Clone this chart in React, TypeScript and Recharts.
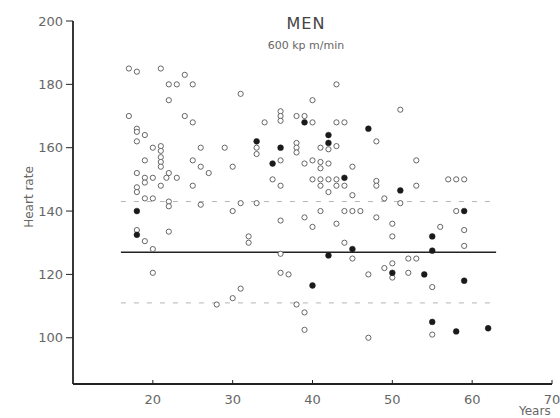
import React from 'react';
import { ScatterChart, Scatter, XAxis, YAxis, ReferenceLine } from 'recharts';

// Age (years), heart rate (beats/min) — open circles
const openPoints: [number, number][] = [
  [17, 185], [18, 184], [21, 185], [24, 183], [22, 180], [23, 180], [25, 180], [22, 175],
  [17, 170], [24, 170], [25, 168], [18, 166], [18, 165], [19, 164], [18, 162], [20, 160],
  [21, 160.5], [21, 159], [26, 160], [29, 160], [19, 156], [21, 157], [21, 155.5], [21, 154],
  [25, 156], [26, 154], [27, 152], [18, 152], [19, 150.5], [20, 150.5], [22, 152], [21.7, 150.5],
  [23, 150.5],
  [19, 149], [21, 148], [25, 148], [18, 147.5], [18, 146], [19, 144], [20, 144], [22, 143],
  [22, 141.5], [26, 142], [18, 134], [22, 133.5], [19, 130.5], [20, 128], [20, 120.5],
  [31, 177], [43, 180], [40, 175], [36, 171.5], [36, 170], [36, 168.5], [34, 168], [38, 170],
  [39, 170], [40, 168], [43, 168], [33, 160], [33, 158], [38, 161.5], [38, 160], [38, 158.5],
  [41, 160], [42, 159.5], [43, 160.5], [30, 154], [36, 156], [39, 155], [40, 156], [41, 155.5],
  [42, 155], [41, 153.5], [35, 150], [40, 150], [41, 150], [42, 150], [43, 150],
  [36, 148], [41, 148], [43, 148], [42, 146], [31, 142.5], [30, 140], [33, 142.5], [41, 140],
  [36, 137], [39, 138], [40, 135], [43, 136], [32, 132], [32, 130], [36, 126.5], [36, 120.5],
  [37, 120], [31, 115.5], [30, 112.5],
  [28, 110.5], [38, 110.5], [39, 108], [39, 102.5], [47, 100], [55, 116], [55, 101],
  [51, 172], [44, 168], [48, 162], [53, 156], [45, 154], [44, 148], [48, 149.5], [48, 148],
  [53, 148], [57, 150], [58, 150], [59, 150], [45, 145], [49, 144],
  [51, 142.5], [44, 140], [45, 140], [46, 140], [48, 138], [50, 136], [44, 130], [45, 125],
  [50, 132], [56, 135], [58, 140], [59, 134], [59, 129], [52, 125], [53, 125], [50, 123.5],
  [49, 122], [50, 119], [52, 120.5], [47, 120],
];

// filled circles
const filledPoints: [number, number][] = [
  [18, 140], [18, 132.5], [33, 162], [35, 155], [36, 160], [39, 168], [42, 164], [42, 161.5],
  [42, 126], [40, 116.5], [47, 166], [44, 150.5], [51, 146.5], [45, 128], [55, 132], [55, 127.5],
  [59, 140], [59, 118], [50, 120.5], [54, 120], [55, 105], [58, 102], [62, 103],
];

const xTicks = [20, 30, 40, 50, 60, 70];
const yTicks = [100, 120, 140, 160, 180, 200];
const meanHR = 127;
const upperSD = 143;
const lowerSD = 111;
const lineStart = 16;
const lineEnd = 63;

const openData = openPoints.map(([age, hr]) => ({ age, hr }));
const filledData = filledPoints.map(([age, hr]) => ({ age, hr }));

const font = '"DejaVu Sans", sans-serif';

const OpenDot = (p: any) => (
  <circle cx={p.cx} cy={p.cy} r={2.6} fill="#fff" stroke="#666" strokeWidth={1} />
);
const FilledDot = (p: any) => (
  <circle cx={p.cx} cy={p.cy} r={2.9} fill="#1a1a1a" stroke="#1a1a1a" strokeWidth={0.5} />
);

export default function App() {
  return (
    <div style={{ position: 'absolute', left: 0, top: 0, width: 560, height: 418, background: '#fff' }}>
      <ScatterChart width={560} height={418} margin={{ top: 21, right: 8, bottom: 0, left: 0 }}>
        <XAxis
          type="number"
          dataKey="age"
          domain={[10, 70]}
          ticks={xTicks}
          allowDataOverflow
          height={34}
          axisLine={{ stroke: '#222', strokeWidth: 1.8 }}
          tickLine={{ stroke: '#222', strokeWidth: 1 }}
          tickSize={-4}
          tickMargin={15}
          tick={{ fill: '#666', fontSize: 13, fontFamily: font }}
        />
        <YAxis
          type="number"
          dataKey="hr"
          domain={[85.4, 200]}
          ticks={yTicks}
          allowDataOverflow
          width={73}
          axisLine={{ stroke: '#222', strokeWidth: 1.8 }}
          tickLine={{ stroke: '#222', strokeWidth: 1 }}
          tickSize={7}
          tickMargin={3}
          tick={{ fill: '#666', fontSize: 13, fontFamily: font }}
        />
        <ReferenceLine
          segment={[{ x: lineStart, y: upperSD }, { x: lineEnd, y: upperSD }]}
          stroke="#b5b5b5"
          strokeWidth={1}
          strokeDasharray="5 8"
        />
        <ReferenceLine
          segment={[{ x: lineStart, y: lowerSD }, { x: lineEnd, y: lowerSD }]}
          stroke="#b5b5b5"
          strokeWidth={1}
          strokeDasharray="5 8"
        />
        <ReferenceLine
          segment={[{ x: lineStart, y: meanHR }, { x: lineEnd, y: meanHR }]}
          stroke="#222"
          strokeWidth={1.5}
        />
        <Scatter data={openData} shape={OpenDot} isAnimationActive={false} />
        <Scatter data={filledData} shape={FilledDot} isAnimationActive={false} />
        <text x={306} y={29} textAnchor="middle" fontSize={16} fill="#444" fontFamily={font} letterSpacing={1}>
          MEN
        </text>
        <text x={306} y={49} textAnchor="middle" fontSize={11} fill="#666" fontFamily={font}>
          600 kp m/min
        </text>
        <text
          x={33}
          y={197}
          textAnchor="middle"
          fontSize={12}
          fill="#666"
          fontFamily={font}
          transform="rotate(-90 33 197)"
        >
          Heart rate
        </text>
        <text x={519} y={415} fontSize={12} fill="#666" fontFamily={font}>
          Years
        </text>
      </ScatterChart>
    </div>
  );
}
